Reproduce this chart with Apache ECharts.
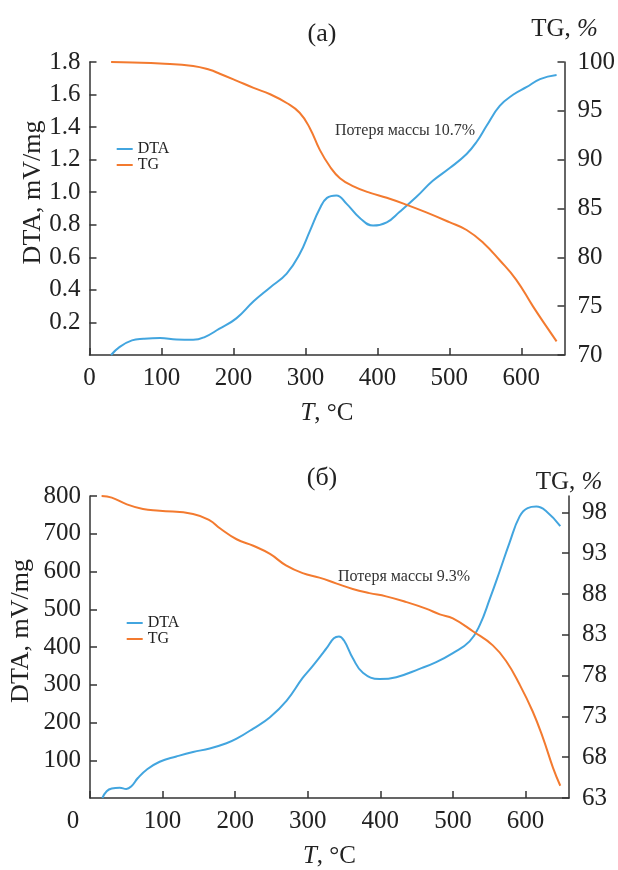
<!DOCTYPE html>
<html><head><meta charset="utf-8">
<script src="https://cdn.jsdelivr.net/npm/echarts@6/dist/echarts.min.js"></script>
<style>html,body{margin:0;padding:0;background:#fff}#c{width:618px;height:870px}</style>
</head><body><div id="c"></div><script>
// Panel (а)
const tempDtaA = [30,42,59,75,98,121,144,160,180,204,228,251,274,292,306,320,330,343,357,376,394,413,431,454,477,501,524,538,552,570,589,607,626,649];
const dtaA = [0.00,0.05,0.09,0.10,0.105,0.095,0.093,0.11,0.16,0.225,0.33,0.415,0.50,0.62,0.76,0.90,0.965,0.98,0.93,0.84,0.795,0.815,0.88,0.97,1.07,1.15,1.235,1.31,1.41,1.53,1.60,1.645,1.695,1.72];
const tempTgA = [30,60,98,144,167,181,204,228,251,274,292,306,320,334,348,366,390,413,440,468,500,524,547,570,593,616,635,649];
const tgA = [100.0,99.95,99.85,99.6,99.2,98.8,98.1,97.35,96.7,95.8,94.8,93.25,91.0,89.3,88.1,87.3,86.6,86.1,85.4,84.6,83.6,82.8,81.5,79.7,77.7,75.0,72.9,71.4];
// Panel (б)
const tempDtaB = [17,23,30,41,50,57,66,78,96,119,142,165,188,202,225,248,271,293,307,326,336,343,350,362,376,399,422,454,477,500,523,537,551,564,578,592,603,615,629,648];
const dtaB = [0,18,25,27,24,31,53,75,96,110,122,131,145,157,184,214,258,318,350,397,423,428,417,371,332,315,320,342,360,384,415,458,528,598,676,746,768,772,759,720];
const tempTgB = [16,30,50,73,96,142,165,179,202,225,248,270,293,316,339,362,385,408,436,463,482,500,528,555,574,592,610,624,638,648];
const tgB = [100.0,99.8,99.0,98.4,98.2,97.8,97.0,96.05,94.7,93.9,92.9,91.5,90.55,90.0,89.3,88.6,88.1,87.7,87.0,86.2,85.5,85.0,83.4,81.7,79.7,76.9,73.6,70.4,66.7,64.5];
// Ticks
const xTicks = [0,100,200,300,400,500,600];
const dtaTicksA = [0.2,0.4,0.6,0.8,1.0,1.2,1.4,1.6,1.8];
const tgTicksA = [70,75,80,85,90,95,100];
const dtaTicksB = [100,200,300,400,500,600,700,800];
const tgTicksB = [63,68,73,78,83,88,93,98];
const lossA = 'Потеря массы 10.7%';
const lossB = 'Потеря массы 9.3%';

const zip = (a, b) => a.map((t, i) => [t, b[i]]);
const FF = "'Liberation Serif','Times New Roman',serif";
const AX = '#333';
const BLUE = '#42a5df';
const ORANGE = '#f37a2f';
const FS = 25;

function xAxisCfg(g, shiftZero) {
  return {
    gridIndex: g, type: 'value', min: 0, max: 660, interval: 100,
    axisLine: {show: true, lineStyle: {color: AX, width: 1.5}},
    axisTick: {show: true, inside: true, length: 7, customValues: xTicks, lineStyle: {color: AX, width: 1.5}},
    axisLabel: {
      customValues: xTicks, fontSize: FS, fontFamily: FF, color: '#222', margin: 11,
      formatter: v => (shiftZero && v === 0) ? '{z|0}' : String(v),
      rich: {z: {fontSize: FS, fontFamily: FF, color: '#222', padding: [0, 34, 0, 0]}}
    },
    splitLine: {show: false},
    name: '{i|T}, °C', nameLocation: 'middle', nameGap: 46, nameMoveOverlap: false,
    nameTextStyle: {fontSize: FS, fontFamily: FF, color: '#222',
      rich: {i: {fontSize: FS, fontFamily: FF, fontStyle: 'italic', color: '#222'}}}
  };
}
function yLeft(g, max, interval, ticks, dec, gap) {
  return {
    gridIndex: g, type: 'value', position: 'left', min: 0, max: max, interval: interval,
    axisLine: {show: true, lineStyle: {color: AX, width: 1.5}},
    axisTick: {show: true, inside: true, length: 7, customValues: ticks, lineStyle: {color: AX, width: 1.5}},
    axisLabel: {customValues: ticks, fontSize: FS, fontFamily: FF, color: '#222', margin: 9,
      formatter: v => v === 0 ? '' : v.toFixed(dec)},
    splitLine: {show: false},
    name: 'DTA, mV/mg', nameLocation: 'middle', nameGap: gap, nameRotate: 90, nameMoveOverlap: false,
    nameTextStyle: {fontSize: 26, fontFamily: FF, color: '#222', padding: [0, 0, 0, 32]}
  };
}
function yRight(g, min, max, interval, ticks, gap) {
  return {
    gridIndex: g, type: 'value', position: 'right', min: min, max: max, interval: interval,
    axisLine: {show: true, lineStyle: {color: AX, width: 1.5}},
    axisTick: {show: true, inside: true, length: 7, customValues: ticks, lineStyle: {color: AX, width: 1.5}},
    axisLabel: {customValues: ticks, fontSize: FS, fontFamily: FF, color: '#222', margin: 13,
      formatter: v => ticks.indexOf(v) >= 0 ? String(v) : ''},
    splitLine: {show: false},
    name: 'TG, {i|%}', nameLocation: 'end', nameGap: gap, nameMoveOverlap: false,
    nameTextStyle: {fontSize: FS, fontFamily: FF, color: '#222',
      rich: {i: {fontSize: FS, fontFamily: FF, fontStyle: 'italic', color: '#222'}}}
  };
}
function lineSeries(name, xi, yi, data, color) {
  return {name: name, type: 'line', xAxisIndex: xi, yAxisIndex: yi, data: data,
    smooth: 0.45, symbol: 'none', showSymbol: false,
    lineStyle: {color: color, width: 2}, itemStyle: {color: color}};
}
function legendCfg(left, top) {
  return {data: ['DTA', 'TG'], orient: 'vertical', left: left, top: top,
    icon: 'rect', itemWidth: 16, itemHeight: 2, itemGap: 0,
    textStyle: {fontSize: 16, fontFamily: FF, color: '#222', lineHeight: 13}};
}
function txt(x, y, text, size, align, color) {
  return {type: 'text', x: x, y: y, silent: true,
    style: {text: text, font: size + 'px ' + FF, fill: color || '#222',
      textAlign: align || 'center', textVerticalAlign: 'middle'}};
}

const chart = echarts.init(document.getElementById('c'), null, {renderer: 'canvas'});
chart.setOption({
  animation: false,
  backgroundColor: '#fff',
  grid: [
    {left: 89.5, top: 62, width: 475, height: 293},
    {left: 90, top: 496, width: 479, height: 306}
  ],
  xAxis: [xAxisCfg(0, false), xAxisCfg(1, true)],
  yAxis: [
    yLeft(0, 1.8, 0.2, dtaTicksA, 1, 43),
    yRight(0, 70, 100, 5, tgTicksA, 20),
    yLeft(1, 800, 100, dtaTicksB, 0, 56),
    yRight(1, 63, 100, 5, tgTicksB, 1)
  ],
  legend: [legendCfg(111.7, 136), legendCfg(121.7, 610)],
  series: [
    lineSeries('DTA', 0, 0, zip(tempDtaA, dtaA), BLUE),
    lineSeries('TG', 0, 1, zip(tempTgA, tgA), ORANGE),
    lineSeries('DTA', 1, 2, zip(tempDtaB, dtaB), BLUE),
    lineSeries('TG', 1, 3, zip(tempTgB, tgB), ORANGE)
  ],
  graphic: [
    txt(322, 34, '(а)', 26),
    txt(322, 478, '(б)', 26),
    txt(335, 131, lossA, 16, 'left', '#333'),
    txt(338, 577, lossB, 16, 'left', '#333')
  ]
});
</script></body></html>
